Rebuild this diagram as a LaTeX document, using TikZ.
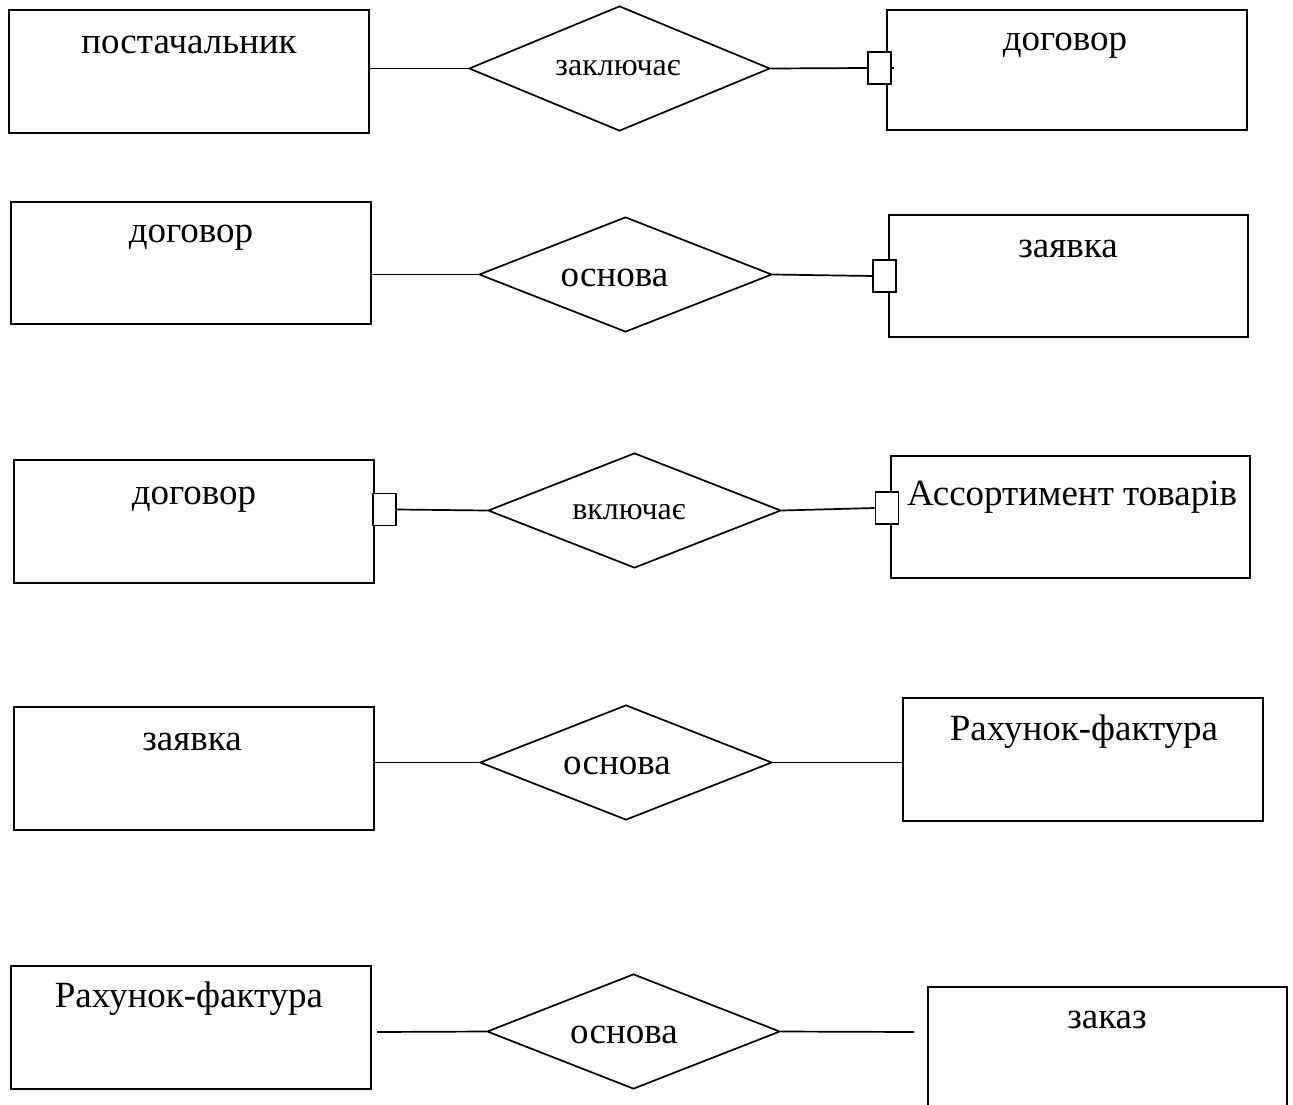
\documentclass[tikz,border=0pt]{standalone}
\usepackage{fontspec}
\setmainfont{Liberation Serif}
\usetikzlibrary{shapes.geometric}
\tikzset{
  ent/.style={draw, line width=1.7pt, rectangle, inner sep=0pt, minimum width=360pt, minimum height=123pt},
  rel/.style={draw, line width=1.7pt, diamond, inner sep=0pt},
  card/.style={draw, line width=1.6pt, fill=white, rectangle, inner sep=0pt, minimum width=23pt, minimum height=32pt},
  conn/.style={line width=1.7pt},
  etext/.style={anchor=base, inner sep=0pt, font=\fontsize{37}{44}\selectfont},
  rtext/.style={anchor=base, inner sep=0pt, font=\fontsize{32}{38}\selectfont},
}
\begin{document}
\begin{tikzpicture}[x=1pt, y=-1pt]
\useasboundingbox (0,0) rectangle (1293,1105);
\clip (0,0) rectangle (1293,1105);

% entity boxes
\node[ent] (A1) at (189,71.5) {};
\node[ent, minimum height=120pt] (B1) at (1067,70) {};
\node[ent, minimum height=122pt] (A2) at (191,263) {};
\node[ent, minimum width=359pt, minimum height=122pt] (B2) at (1068.5,276) {};
\node[ent] (A3) at (194,521.5) {};
\node[ent, minimum width=359pt, minimum height=122pt] (B3) at (1070.5,517) {};
\node[ent] (A4) at (194,768.5) {};
\node[ent] (B4) at (1083,759.5) {};
\node[ent] (A5) at (191,1027.5) {};
\node[ent, minimum width=359pt, minimum height=140pt] (B5) at (1107.5,1057) {};

% relationship diamonds
\node[rel, minimum width=301pt, minimum height=125pt] (D1) at (619.5,68.5) {};
\node[rel, minimum width=293pt, minimum height=115pt] (D2) at (625.5,274.5) {};
\node[rel, minimum width=293pt, minimum height=115pt] (D3) at (634.5,510.5) {};
\node[rel, minimum width=292pt, minimum height=115pt] (D4) at (626,762.5) {};
\node[rel, minimum width=293pt, minimum height=115pt] (D5) at (633.5,1031.5) {};

% entity texts
\node[etext] (tA1) at (189,54) {постачальник};
\node[etext] (tB1) at (1065,51) {договор};
\node[etext] (tA2) at (191,242) {договор};
\node[etext] (tB2) at (1068,257) {заявка};
\node[etext] (tA3) at (194,504) {договор};
\node[etext] (tB3) at (1072,505) {Ассортимент товарів};
\node[etext] (tA4) at (192,750) {заявка};
\node[etext] (tB4) at (1084,740) {Рахунок-фактура};
\node[etext] (tA5) at (189,1007) {Рахунок-фактура};
\node[etext] (tB5) at (1107,1028) {заказ};

% relationship texts
\node[rtext] (tD1) at (618,76) {заключає};
\node[etext] (tD2) at (614.5,286) {основа};
\node[rtext] (tD3) at (629,519) {включає};
\node[etext] (tD4) at (617,774) {основа};
\node[etext] (tD5) at (624,1043) {основа};

% connectors row 1
\draw[conn] (D1.west -| A1.east) -- (D1.west);
\node[card] (S1) at (879.5,68) {};
\draw[conn] (D1.east) -- (S1.west);
\draw[conn] (S1.east) -- ++(2,0);

% row 2
\draw[conn] (D2.west -| A2.east) -- (D2.west);
\node[card] (S2) at (884.5,276) {};
\draw[conn] (D2.east) -- (S2.west);

% row 3
\node[card] (S3L) at (384.5,509.5) {};
\node[card] (S3R) at (887,508) {};
\draw[conn] (S3L.east) -- (D3.west);
\draw[conn] (D3.east) -- (S3R.west);

% row 4
\draw[conn] (D4.west -| A4.east) -- (D4.west);
\draw[conn] (D4.east) -- (D4.east -| B4.west);

% row 5
\coordinate (L5) at (377,1032);
\coordinate (R5) at (914,1032);
\draw[conn] (L5) -- (D5.west);
\draw[conn] (D5.east) -- (R5);
\end{tikzpicture}
\end{document}
